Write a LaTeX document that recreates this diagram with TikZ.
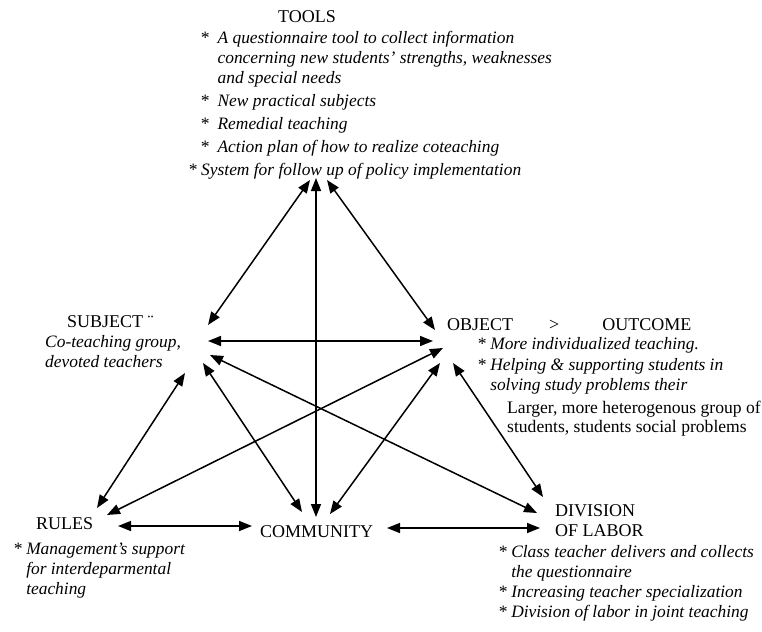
\documentclass[tikz,border=0pt]{standalone}
\usepackage{fontspec}
\setmainfont{Liberation Serif}
\usepackage{tikz}
\usetikzlibrary{positioning, arrows.meta, calc}

\begin{document}
\begin{tikzpicture}[
    x=1pt, y=-1pt,
    label/.style={inner sep=0pt, font=\fontsize{18}{20}\selectfont},
    list/.style={inner sep=0pt, align=left, font=\fontsize{17.4}{20}\selectfont\itshape},
    link/.style={{Triangle[length=13pt,width=10pt]}-{Triangle[length=13pt,width=10pt]}, line width=1.5pt}
]
    \useasboundingbox (0,0) rectangle (762,631);

    % Vertex labels
    \node[label, anchor=base] (tools) at (307,23) {TOOLS};
    \node[label, anchor=base west] (subject) at (67,327) {SUBJECT \char"00A8};
    \node[label, anchor=base west] (object) at (447,330) {OBJECT\hspace{36pt}>\hspace{43pt}OUTCOME};
    \node[label, anchor=base west] (rules) at (36,529) {RULES};
    \node[label, anchor=base west] (community) at (260,537) {COMMUNITY};
    \node[label, anchor=north west, align=left] (division) at (555,504) {DIVISION\\OF LABOR};

    % Lists
    \node[list, anchor=north west] (toolsList) at (200,31) {*\ \ A questionnaire tool to collect information\\
        \hphantom{*\ \ }concerning new students’ strengths, weaknesses\\
        \hphantom{*\ \ }and special needs\\[3pt]
        *\ \ New practical subjects\\[3pt]
        *\ \ Remedial teaching\\[3pt]
        *\ \ Action plan of how to realize coteaching\\[3pt]
        \hspace*{-12pt}* System for follow up of policy implementation};
    \node[list, anchor=north west] (subjectList) at (45,335) {Co-teaching group,\\devoted teachers};
    \node[list, anchor=north west] (objectList) at (477,337) {* More individualized teaching.\\[1pt]
        * Helping \& supporting students in\\
        \hphantom{* }solving study problems their};
    \node[label, anchor=north west, align=left, font=\fontsize{17.6}{18.5}\selectfont] (objectNote) at (507,401) {Larger, more heterogenous group of\\students, students social problems};
    \node[list, anchor=north west] (rulesList) at (13,543) {* Management’s support\\
        \hphantom{* }for interdeparmental\\
        \hphantom{* }teaching};
    \node[list, anchor=north west] (divisionList) at (498,545) {* Class teacher delivers and collects\\
        \hphantom{* }the questionnaire\\
        * Increasing teacher specialization\\
        * Division of labor in joint teaching};

    % Arrow ends round each vertex
    \coordinate (tS) at (310,180);
    \coordinate (tC) at (316,178);
    \coordinate (tO) at (327,180);
    \coordinate (sT) at (208,325);
    \coordinate (sO) at (208,341);
    \coordinate (sD) at (210,355);
    \coordinate (sC) at (203,363);
    \coordinate (sR) at (185,373);
    \coordinate (oT) at (435,330);
    \coordinate (oS) at (433,341);
    \coordinate (oR) at (443,348);
    \coordinate (oC) at (440,363);
    \coordinate (oD) at (453,363);
    \coordinate (rS) at (97,508);
    \coordinate (rO) at (107,515);
    \coordinate (rC) at (118,526);
    \coordinate (cR) at (252,526);
    \coordinate (cS) at (302,512);
    \coordinate (cT) at (316,517);
    \coordinate (cO) at (330,514);
    \coordinate (cD) at (387,528);
    \coordinate (dS) at (537,513);
    \coordinate (dO) at (543,497);
    \coordinate (dC) at (540,528);

    % Links
    \draw[link] (tS) -- (sT);
    \draw[link] (tC) -- (cT);
    \draw[link] (tO) -- (oT);
    \draw[link] (sO) -- (oS);
    \draw[link] (sC) -- (cS);
    \draw[link] (sD) -- (dS);
    \draw[link] (sR) -- (rS);
    \draw[link] (oR) -- (rO);
    \draw[link] (oC) -- (cO);
    \draw[link] (oD) -- (dO);
    \draw[link] (rC) -- (cR);
    \draw[link] (cD) -- (dC);
\end{tikzpicture}
\end{document}
